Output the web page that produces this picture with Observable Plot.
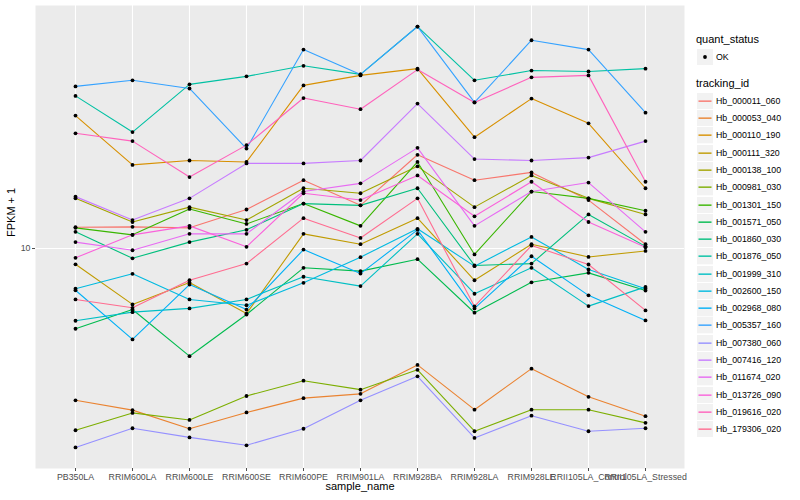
<!DOCTYPE html>
<html>
<head>
<meta charset="utf-8">
<script src="https://cdn.jsdelivr.net/npm/d3@7"></script>
<script src="https://cdn.jsdelivr.net/npm/@observablehq/plot@0.6"></script>
<style>
  html, body { margin: 0; padding: 0; background: #fff; }
  #wrap { position: relative; width: 800px; height: 500px; font-family: "Liberation Sans", Arial, Helvetica, sans-serif; }
  #chart { position: absolute; left: 0; top: 0; }
  .lg { position: absolute; white-space: nowrap; color: #000; }
</style>
</head>
<body>
<div id="wrap"><div id="chart"></div></div>
<script>
const samples = ["PB350LA","RRIM600LA","RRIM600LE","RRIM600SE","RRIM600PE","RRIM901LA","RRIM928BA","RRIM928LA","RRIM928LE","RRII105LA_Control","RRII105LA_Stressed"];
const trackingIds = ["Hb_000011_060","Hb_000053_040","Hb_000110_190","Hb_000111_320","Hb_000138_100","Hb_000981_030","Hb_001301_150","Hb_001571_050","Hb_001860_030","Hb_001876_050","Hb_001999_310","Hb_002600_150","Hb_002968_080","Hb_005357_160","Hb_007380_060","Hb_007416_120","Hb_011674_020","Hb_013726_090","Hb_019616_020","Hb_179306_020"];
const hueColors = ["#F8766D","#EA8331","#D89000","#C09B00","#A3A500","#7CAE00","#39B600","#00BB4E","#00BF7D","#00C1A3","#00BFC4","#00BAE0","#00B0F6","#35A2FF","#9590FF","#C77CFF","#E76BF3","#FA62DB","#FF62BC","#FF6C90"];
const yTicks = [10];

// FPKM + 1 per sample (order of samples)
const hb000011_060 = [11.03, 11.05, 11.0, 11.97, 13.7, 12.2, 15.4, 13.7, 14.2, 12.5, 10.2];
const hb000053_040 = [4.97, 4.75, 4.36, 4.70, 5.02, 5.12, 5.85, 4.76, 5.75, 5.05, 4.62];
const hb000110_190 = [18.45, 14.7, 15.0, 14.9, 21.2, 22.2, 22.9, 16.7, 19.95, 17.8, 13.2];
const hb000111_320 = [9.30, 7.73, 8.55, 7.41, 10.7, 10.2, 11.5, 8.64, 10.2, 9.62, 9.89];
const hb000138_100 = [12.6, 11.3, 12.1, 11.4, 13.2, 12.9, 14.6, 12.1, 14.0, 12.6, 11.7];
const hb000981_030 = [4.33, 4.69, 4.54, 5.07, 5.44, 5.22, 5.72, 4.31, 4.76, 4.76, 4.48];
const hb001301_150 = [11.0, 10.65, 12.0, 11.2, 12.3, 11.1, 14.9, 9.73, 13.0, 12.6, 11.9];
const hb001571_050 = [6.91, 7.55, 6.09, 7.38, 9.15, 9.01, 9.52, 7.44, 8.56, 8.94, 8.24];
const hb001860_030 = [10.8, 9.56, 10.3, 10.9, 12.3, 12.2, 13.2, 9.25, 9.33, 11.7, 10.1];
const hb001876_050 = [20.2, 17.1, 21.3, 22.1, 23.2, 22.3, 27.8, 21.7, 22.7, 22.6, 22.9];
const hb001999_310 = [7.17, 7.46, 7.59, 7.91, 8.78, 8.41, 10.7, 8.12, 9.15, 7.67, 8.38];
const hb002600_150 = [8.31, 8.90, 7.91, 7.70, 8.54, 9.61, 10.95, 9.22, 10.55, 9.08, 8.31];
const hb002968_080 = [8.25, 6.58, 8.47, 7.55, 9.95, 8.91, 10.9, 7.59, 9.65, 8.06, 7.18];
const hb005357_160 = [21.1, 21.7, 20.9, 15.85, 25.0, 22.3, 27.8, 19.6, 26.1, 25.0, 18.7];
const hb007380_060 = [4.00, 4.37, 4.19, 4.04, 4.36, 4.97, 5.55, 4.18, 4.63, 4.31, 4.37];
const hb007416_120 = [12.7, 11.4, 12.6, 14.8, 14.8, 15.0, 19.5, 15.1, 15.0, 15.2, 16.4];
const hb011674_020 = [10.3, 9.92, 10.7, 10.7, 13.0, 13.5, 15.9, 11.1, 13.0, 13.55, 10.8];
const hb013726_090 = [9.58, 10.65, 11.1, 10.08, 12.9, 12.5, 14.0, 11.6, 13.6, 11.3, 10.06];
const hb019616_020 = [17.0, 16.4, 13.9, 16.1, 20.0, 19.0, 22.8, 19.6, 22.0, 22.2, 13.6];
const hb179306_020 = [7.91, 7.61, 8.64, 9.33, 11.5, 10.5, 12.6, 7.66, 10.14, 9.29, 7.52];

const seriesValues = [hb000011_060, hb000053_040, hb000110_190, hb000111_320, hb000138_100, hb000981_030, hb001301_150, hb001571_050, hb001860_030, hb001876_050, hb001999_310, hb002600_150, hb002968_080, hb005357_160, hb007380_060, hb007416_120, hb011674_020, hb013726_090, hb019616_020, hb179306_020];

const data = trackingIds.flatMap((id, i) => samples.map((s, j) => ({sample: s, id, value: seriesValues[i][j]})));

const logs = data.map(d => Math.log10(d.value));
const lo = d3.min(logs), hi = d3.max(logs), pad = (hi - lo) * 0.05;
const yDomain = [10 ** (lo - pad), 10 ** (hi + pad)];

const font = '"Liberation Sans", Arial, Helvetica, sans-serif';

const chart = Plot.plot({
  width: 690,
  height: 500,
  marginLeft: 35,
  marginRight: 6,
  marginTop: 5,
  marginBottom: 32,
  style: {fontFamily: font, background: "white", overflow: "visible"},
  x: {type: "point", domain: samples, padding: 0.6},
  y: {type: "log", domain: yDomain},
  color: {domain: trackingIds, range: hueColors},
  marks: [
    Plot.frame({fill: "#EBEBEB", stroke: "none"}),
    Plot.gridX({stroke: "white", strokeOpacity: 1, strokeWidth: 1.1}),
    Plot.gridY({ticks: yTicks, stroke: "white", strokeOpacity: 1, strokeWidth: 1.1}),
    Plot.line(data, {x: "sample", y: "value", z: "id", stroke: "id", strokeWidth: 1.1}),
    Plot.dot(data, {x: "sample", y: "value", fill: "black", r: 1.9}),
    Plot.axisX({tickSize: 3, tickPadding: 2, fontSize: 8.8, color: "#4d4d4d", label: null}),
    Plot.axisY({ticks: yTicks, tickFormat: d => String(d), tickSize: 3, tickPadding: 2, fontSize: 8.8, color: "#4d4d4d", label: null}),
    Plot.text(["sample_name"], {text: d => d, frameAnchor: "bottom", dy: 21, fontSize: 11, fill: "black"}),
    Plot.text(["FPKM + 1"], {text: d => d, frameAnchor: "left", dx: -24, rotate: -90, fontSize: 11, fill: "black"})
  ]
});
document.getElementById("chart").appendChild(chart);

// Legend
const wrap = document.getElementById("wrap");
function add(html, style) {
  const el = document.createElement("div");
  el.className = "lg";
  el.innerHTML = html;
  Object.assign(el.style, style);
  wrap.appendChild(el);
  return el;
}
add("quant_status", {left: "696px", top: "34px", fontSize: "11px", lineHeight: "11px"});
add('<svg width="16" height="16"><rect width="16" height="16" fill="#F2F2F2"/><circle cx="8" cy="8" r="1.9" fill="black"/></svg>',
    {left: "697px", top: "49px", width: "16px", height: "16px", lineHeight: "0"});
add("OK", {left: "716px", top: "49px", height: "16px", lineHeight: "16px", fontSize: "8.8px"});
add("tracking_id", {left: "696px", top: "77.5px", fontSize: "11px", lineHeight: "11px"});
const step = 17.28;
trackingIds.forEach((id, i) => {
  const cy = 101 + i * step;
  add(`<svg width="16" height="16.3"><rect width="16" height="16.3" fill="#F2F2F2"/><line x1="1.5" x2="14.5" y1="8.15" y2="8.15" stroke="${hueColors[i]}" stroke-width="1.4"/></svg>`,
      {left: "697px", top: (cy - 8.15) + "px", width: "16px", height: "16.3px", lineHeight: "0"});
  add(id, {left: "716px", top: (cy - 8.15) + "px", height: "16.3px", lineHeight: "16.3px", fontSize: "8.8px"});
});
</script>
</body>
</html>
